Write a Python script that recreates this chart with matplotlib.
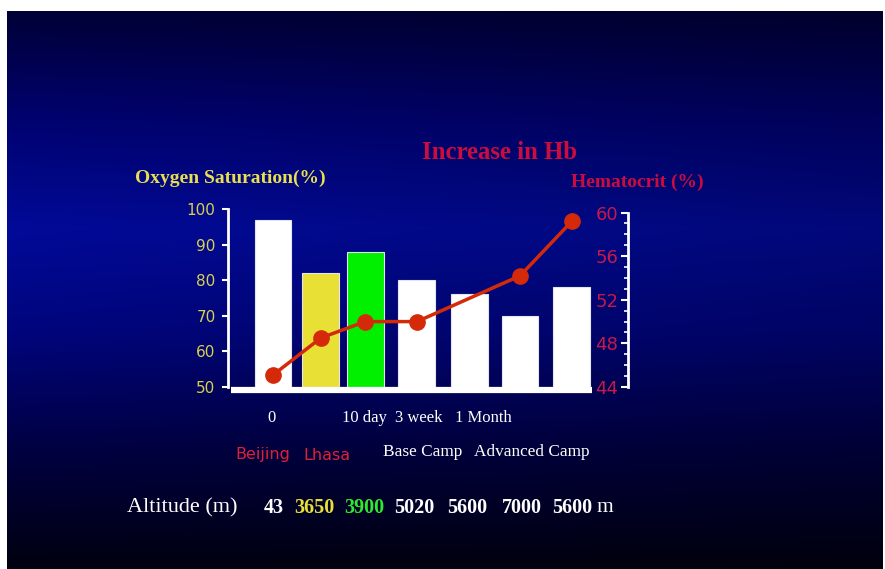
import numpy as np
import matplotlib.pyplot as plt
from matplotlib.ticker import MultipleLocator

# data
o2_sat = [97, 82, 88, 80, 76, 70, 78]
bar_colors = ['white', '#e8e034', '#00f000', 'white', 'white', 'white', 'white']
hct_idx = [0, 1, 2, 3, 5, 6]
hematocrit = [45.1, 48.5, 50.0, 50.0, 54.2, 59.2]
time_labels = ['0', '', '10 day', '3 week', '1 Month', '', '']
place_labels = ['Beijing', 'Lhasa', '', 'Base Camp', '', 'Advanced Camp', '']
altitudes = ['43', '3650', '3900', '5020', '5600', '7000', '5600']
alt_colors = ['white', '#e8e034', '#30e830', 'white', 'white', 'white', 'white']

W, H = 885, 569
fig = plt.figure(figsize=(W / 100, H / 100), dpi=100, facecolor='white')


def fx(px):
    return px / W


def fy(py):
    return 1 - py / H


# background gradient
bg = fig.add_axes([fx(7), 0, fx(883 - 7), fy(11)])
bg.set_axis_off()
ys = np.linspace(11, 569, 300)
stops_y = [11, 120, 228, 330, 450, 569]
stops_c = np.array([[0, 0, 55], [0, 2, 112], [2, 10, 152], [0, 5, 125], [0, 0, 66], [0, 0, 16]]) / 255
col = np.stack([np.interp(ys, stops_y, stops_c[:, i]) for i in range(3)], axis=1)
xs = np.linspace(0, 1, 200)
shade = 1.0 - 0.2 * xs  # a little darker to the right
img = col[:, None, :] * shade[None, :, None]
bg.imshow(np.clip(img, 0, 1), aspect='auto', extent=[0, 1, 0, 1], zorder=0)

serif = 'Liberation Serif'
sans = 'DejaVu Sans'

# bar positions (in bar units) to follow the slide spacing
xpos = np.array([0, 0.96, 1.85, 2.89, 3.94, 4.96, 6.0])
unit = 49.8
x0 = -(273 - 228) / unit

ax = fig.add_axes([fx(228), fy(387), fx(628) - fx(228), fy(209) - fy(387)])
ax.set_facecolor('none')
ax.bar(xpos, o2_sat, width=0.74, color=bar_colors, edgecolor='#e4e4ea', linewidth=0.8, zorder=2)
ax.set_ylim(50, 100)
ax.set_xlim(x0, x0 + 400 / unit)
ax.set_yticks(range(50, 101, 10))
ax.set_xticks([])
for s in ['top', 'right', 'bottom']:
    ax.spines[s].set_visible(False)
ax.spines['left'].set_color('white')
ax.spines['left'].set_linewidth(2)
ax.tick_params(axis='y', colors='white', length=4, width=1.5, pad=5,
               labelcolor='#d8d050', labelsize=11)
for lab in ax.get_yticklabels():
    lab.set_family(sans)
ax.hlines(49.2, (231 - 273) / unit, (592 - 273) / unit, color='white', lw=4.5, clip_on=False, zorder=3)

# hematocrit axis, labels on the inner side of the right spine
ax2 = ax.twinx()
ax2.set_facecolor('none')
ax2.set_ylim(44, 60.33)
ax2.set_yticks([44, 48, 52, 56, 60])
ax2.yaxis.set_minor_locator(MultipleLocator(1))
ax2.yaxis.tick_left()
for s in ['top', 'right', 'bottom']:
    ax2.spines[s].set_visible(False)
ax2.spines['left'].set_position(('axes', 1.0))
ax2.spines['left'].set_bounds(44, 60)
ax2.spines['left'].set_color('white')
ax2.spines['left'].set_linewidth(2)
ax2.tick_params(axis='y', which='major', colors='white', length=5, width=1.5, pad=2,
                labelcolor='#c41a4a', labelsize=13)
ax2.tick_params(axis='y', which='minor', colors='white', length=3, width=1.2)
for lab in ax2.get_yticklabels():
    lab.set_family(sans)
ax2.plot(xpos[hct_idx], hematocrit, color='#d42a0a', lw=2.5, marker='o', ms=11,
         markerfacecolor='#d42a0a', markeredgecolor='#d42a0a', zorder=5, clip_on=False)

# titles
fig.text(fx(500), fy(153), 'Increase in Hb', color='#cc0c3c', fontsize=17.8, fontweight='bold',
         family=serif, ha='center', va='center')
fig.text(fx(135), fy(178), 'Oxygen Saturation(%)', color='#e8e050', fontsize=14, fontweight='bold',
         family=serif, ha='left', va='center')
fig.text(fx(571), fy(182), 'Hematocrit (%)', color='#cc0c3c', fontsize=14, fontweight='bold',
         family=serif, ha='left', va='center')

# labels below the chart (pixel nudges follow the slide's hand placement)
trans = ax.get_xaxis_transform()
ty = (418 - 387) / (209 - 387)
py = (455 - 387) / (209 - 387)
ay = (508 - 387) / (209 - 387)
time_shift = [-2, 0, -1, 2, 14, 0, 0]
place_shift = [-10, 6, 0, 6, 0, 12, 0]
alt_shift = [1, -6, -1, -3, -2, 2, 0]
for i, x in enumerate(xpos):
    if time_labels[i]:
        ax.text(x + time_shift[i] / unit, ty, time_labels[i], transform=trans, color='white',
                fontsize=12, family=serif, ha='center', va='center')
    if place_labels[i]:
        c = '#e0203a' if i < 2 else 'white'
        f = sans if i < 2 else serif
        fs = 11.5 if i < 2 else 12.4
        yy = py if i < 2 else py + 3 / 178
        ax.text(x + place_shift[i] / unit, yy, place_labels[i], transform=trans, color=c,
                fontsize=fs, family=f, ha='center', va='center')
    ax.text(x + alt_shift[i] / unit, ay, altitudes[i], transform=trans, color=alt_colors[i],
            fontsize=14.5, fontweight='bold', family=serif, ha='center', va='center')
ax.text(xpos[-1] + 33 / unit, ay, 'm', transform=trans, color='white', fontsize=15.5,
        family=serif, ha='center', va='center')
fig.text(fx(182), fy(508), 'Altitude (m)', color='white', fontsize=16, family=serif,
         ha='center', va='center')

fig.savefig('out.png', dpi=100, facecolor='white')
